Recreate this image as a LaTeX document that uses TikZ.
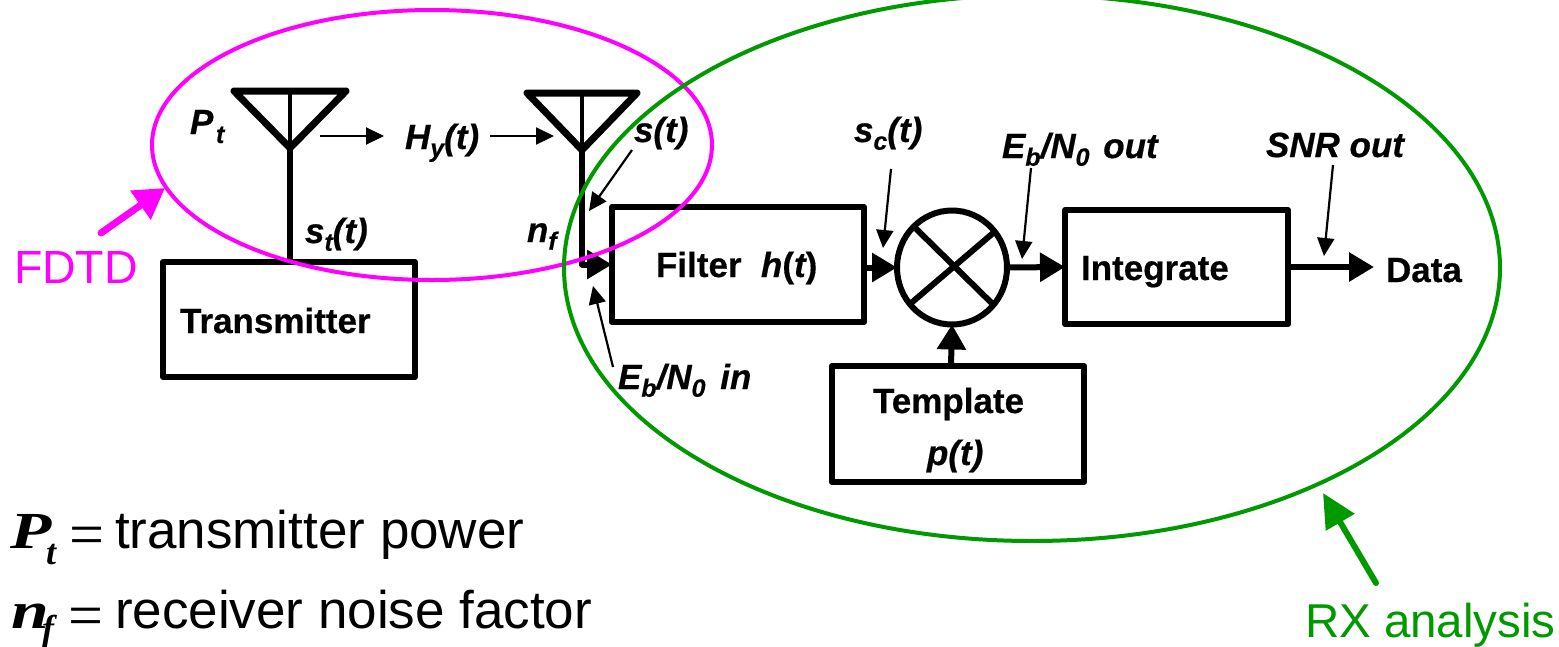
\documentclass[tikz,border=0pt]{standalone}
\usepackage{fontspec}
\usetikzlibrary{arrows.meta,shapes.geometric}
\setmainfont{Liberation Sans}[BoldFeatures={FakeBold=0.5},BoldItalicFeatures={FakeBold=0.5}]
\newfontfamily\serifbi[BoldFont={Liberation Serif Bold Italic}]{Liberation Serif}
\definecolor{fdtdcol}{HTML}{FF00FF}
\definecolor{rxcol}{HTML}{009900}
\newcommand{\lowidx}[1]{\raisebox{-0.22em}{\fontsize{25}{25}\selectfont #1}}
\tikzset{
  blockbox/.style={draw=black,line width=6pt,line join=round,inner sep=0,outer sep=0,rectangle},
  mixerbox/.style={draw=black,line width=6pt,ellipse,inner sep=0,outer sep=0,minimum width=110pt,minimum height=114pt},
  txt/.style={anchor=base west,inner sep=0,outer sep=0,font=\fontsize{35}{35}\selectfont\bfseries},
  ital/.style={txt,font=\fontsize{35}{35}\selectfont\bfseries\itshape},
  big/.style={anchor=base west,inner sep=0,outer sep=0,font=\fontsize{53}{53}\selectfont},
  mathy/.style={anchor=base west,inner sep=0,outer sep=0,font=\fontsize{52}{52}\selectfont\serifbi\bfseries},
  wire/.style={line width=6pt,black},
  antenna/.style={line width=7pt,black,line join=round},
  mast/.style={line width=4.5pt,black},
  bigarrow/.style={line width=6pt,black,-{Triangle[length=25pt,width=28pt]}},
  thinarrow/.style={line width=2.2pt,black,-{Triangle[length=18pt,width=17pt]}},
  loop/.style={draw,ellipse,line width=4pt,inner sep=0,outer sep=0},
}
\begin{document}
\begin{tikzpicture}[x=1pt,y=-1pt]
\useasboundingbox (0,0) rectangle (1559,646);
% blocks
\node[blockbox,minimum width=252pt,minimum height=115pt] (tx) at (289,319.5) {};
\node[blockbox,minimum width=252pt,minimum height=115pt] (filter) at (738,264.5) {};
\node[blockbox,minimum width=223pt,minimum height=114pt] (integ) at (1176.5,267) {};
\node[blockbox,minimum width=252pt,minimum height=116pt] (templ) at (958,424) {};
\node[mixerbox] (mixer) at (952,267.5) {};
\draw[wire] (mixer.133) -- (mixer.318);
\draw[wire] (mixer.40) -- (mixer.221);
% antennas
\coordinate (aL1) at (234,91);
\coordinate (aR1) at (346,91);
\coordinate (aA1) at (290,148);
\coordinate (aL2) at (527,93);
\coordinate (aR2) at (637,93);
\coordinate (aA2) at (582,150);
\draw[antenna] (aL1) -- (aR1) -- (aA1) -- cycle;
\draw[antenna] (aL2) -- (aR2) -- (aA2) -- cycle;
\coordinate (mT1) at (290,91);
\coordinate (mT2) at (582,93);
\draw[mast] (mT1) -- (aA1);
\draw[mast] (mT2) -- (aA2);
\draw[wire] (aA1) -- (aA1 |- tx.north);
\coordinate (bend) at (582,264.5);
\draw[wire,line join=round] (aA2) -- (bend) -- (590,264.5);
\draw[bigarrow] (bend) -- (filter.west);
% labels
\node[ital] (lPt) at (190,134) {P};
\node[ital,font=\fontsize{25}{25}\selectfont\bfseries\itshape] (lPts) at (216,143) {t};
\node[ital] (lHy) at (405,149) {H\lowidx{y}(t)};
\node[ital] (lst) at (634,142) {s(t)};
\node[ital] (lstt) at (305,243) {s\lowidx{t}(t)};
\node[ital] (lnf) at (527,242) {n\lowidx{f}};
\node[ital] (lsc) at (854,142) {s\lowidx{c}(t)};
\node[ital] (lout) at (1002,158) {E\lowidx{b}/N\lowidx{0}\hspace{4pt} out};
\node[ital] (lsnr) at (1266,157) {SNR out};
\node[ital] (lin) at (618,389) {E\lowidx{b}/N\lowidx{0}\hspace{5pt} in};
\node[txt] (lfilter) at (656,277) {Filter};
\node[txt] (lh) at (761,277) {\itshape h\upshape(\itshape t\upshape)};
\node[txt] (ltx) at (180,333) {Transmitter};
\node[txt] (lint) at (1081,280) {Integrate};
\node[txt] (ldata) at (1386,282) {Data};
\node[txt] (ltem) at (873,413) {Template};
\node[ital] (lp) at (927,465) {p(t)};
% data path
\coordinate (dataEnd) at (1374,267);
\coordinate (tmplOut) at (951,366);
\draw[bigarrow] (mixer.west -| filter.east) -- (mixer.west);
\draw[bigarrow] (mixer.east) -- (integ.west);
\draw[bigarrow] (integ.east) -- (dataEnd);
\draw[bigarrow] (tmplOut) -- (mixer.south);
% thin arrows
\coordinate (hIn) at (320,136);
\coordinate (hIe) at (384,136);
\coordinate (hOut) at (490,136);
\coordinate (hEnd) at (554,136);
\draw[thinarrow] (hIn) -- (hIe);
\draw[thinarrow] (hOut) -- (hEnd);
\coordinate (qSt) at (632,150);
\coordinate (pSt) at (589,211);
\draw[thinarrow] (qSt) -- (pSt);
\coordinate (qSc) at (891,169);
\coordinate (pSc) at (883,248);
\draw[thinarrow] (qSc) -- (pSc);
\coordinate (qOut) at (1031,168);
\coordinate (pOut) at (1022,259);
\draw[thinarrow] (qOut) -- (pOut);
\coordinate (qSnr) at (1333,165);
\coordinate (pSnr) at (1324,256);
\draw[thinarrow] (qSnr) -- (pSnr);
\coordinate (qIn) at (613,367);
\coordinate (pIn) at (593,286);
\draw[thinarrow] (qIn) -- (pIn);
% annotation loops
\node[loop,draw=fdtdcol,minimum width=560pt,minimum height=270pt] (fdtdloop) at (432,145) {};
\node[loop,draw=rxcol,minimum width=936pt,minimum height=546pt] (rxloop) at (1032,268) {};
\node[big,text=fdtdcol,font=\fontsize{46.5}{46.5}\selectfont] (lfdtd) at (14,283) {FDTD};
\node[big,text=rxcol,font=\fontsize{47.5}{47.5}\selectfont] (lrx) at (1305,637) {RX analysis};
\coordinate (fA) at (101,233);
\coordinate (fB) at (165,188);
\draw[line width=7pt,fdtdcol,line cap=round,-{Triangle[length=30pt,width=34pt]}] (fA) -- (fB);
\coordinate (rA) at (1376,583);
\coordinate (rB) at (1323,493);
\draw[line width=6pt,rxcol,line cap=round,-{Triangle[length=34pt,width=32pt]}] (rA) -- (rB);
% legend
\node[mathy] (mP) at (10,548) {\scalebox{1.3}[1]{P}};
\node[mathy,font=\fontsize{36}{36}\selectfont\serifbi\bfseries] (mPt) at (46,564) {t};
\node[mathy,font=\fontsize{62}{62}\selectfont\serifbi] (mEq1) at (69,555) {=};
\node[big] (tP) at (115,548) {transmitter power};
\node[mathy] (mn) at (12,628) {\scalebox{1.3}[1]{n}};
\node[mathy,font=\fontsize{36}{36}\selectfont\serifbi\bfseries] (mf) at (42,640) {f};
\node[mathy,font=\fontsize{62}{62}\selectfont\serifbi] (mEq2) at (68,636) {=};
\node[big] (tn) at (115,628) {receiver noise factor};
\end{tikzpicture}
\end{document}
